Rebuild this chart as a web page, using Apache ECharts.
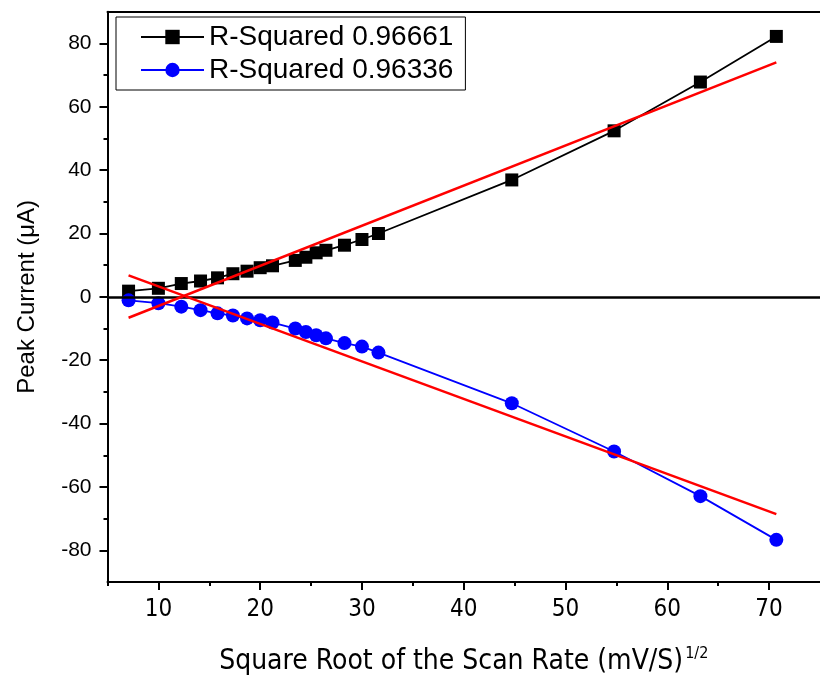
<!DOCTYPE html>
<html>
<head>
<meta charset="utf-8">
<script src="https://cdn.jsdelivr.net/npm/echarts@6/dist/echarts.min.js"></script>
<style>
  html, body { margin: 0; padding: 0; background: #fff; }
  #main { width: 820px; height: 681px; }
</style>
</head>
<body>
<div id="main"></div>
<script>
  // square root of scan rate (x) and peak currents
  const scanX = [7.07, 10, 12.25, 14.14, 15.81, 17.32, 18.71, 20, 21.21, 23.45, 24.49, 25.5, 26.46, 28.28, 30, 31.62, 44.72, 54.77, 63.25, 70.71];
  const anodic = [1.8, 2.7, 4.2, 5.0, 6.0, 7.3, 8.1, 9.2, 9.8, 11.5, 12.5, 13.9, 14.7, 16.3, 18.1, 20.0, 36.9, 52.4, 67.8, 82.2];
  const cathodic = [-1.1, -2.0, -3.1, -4.2, -5.2, -5.9, -6.8, -7.4, -8.1, -10.0, -11.1, -12.1, -13.1, -14.6, -15.7, -17.6, -33.6, -48.8, -62.9, -76.7];
  // linear fits (red)
  const fitX = [7.07, 70.71];
  const fitAnodic = [-6.6, 74.0];
  const fitCathodic = [6.8, -68.6];
  const names = ['R-Squared 0.96661', 'R-Squared 0.96336'];
  const xMajor = [10, 20, 30, 40, 50, 60, 70];
  const xMinor = [5, 15, 25, 35, 45, 55, 65];
  const yMajor = [-80, -60, -40, -20, 0, 20, 40, 60, 80];
  const yMinor = [-70, -50, -30, -10, 10, 30, 50, 70];

  const pairs = (xs, ys) => xs.map((x, i) => [x, ys[i]]);
  const arial = 'Liberation Sans, Arial, sans-serif';
  const narrow = 'Liberation Sans Narrow, Arial Narrow, DejaVu Sans Condensed, sans-serif';
  const black = '#000';

  const chart = echarts.init(document.getElementById('main'));
  chart.setOption({
    animation: false,
    backgroundColor: '#fff',
    grid: { left: 107.5, top: 11.7, right: -8, bottom: 97.7 },
    legend: {
      data: names,
      orient: 'vertical',
      left: 116,
      top: 17,
      padding: [6, 12, 6, 24],
      itemGap: 5,
      itemWidth: 63,
      itemHeight: 18,
      borderColor: black,
      borderWidth: 1,
      textStyle: { fontFamily: arial, fontSize: 28, color: black, lineHeight: 28 }
    },
    xAxis: [
      {
        type: 'value', position: 'bottom', min: 5, max: 75,
        splitLine: { show: false },
        axisLine: { onZero: false, lineStyle: { color: black, width: 2 } },
        axisTick: { show: true, customValues: xMajor, length: 8, lineStyle: { color: black, width: 2 } },
        axisLabel: { customValues: xMajor, margin: 16, fontFamily: narrow, fontSize: 24, color: black },
        name: '{a|Square Root of the Scan Rate (mV/S)}{s|1/2}',
        nameLocation: 'middle',
        nameGap: 64,
        nameTextStyle: {
          rich: {
            a: { fontFamily: narrow, fontSize: 28, color: black },
            s: { fontFamily: narrow, fontSize: 16, color: black, padding: [0, 0, 16, 2] }
          }
        }
      },
      {
        type: 'value', position: 'bottom', min: 5, max: 75,
        splitLine: { show: false },
        axisLine: { show: false, onZero: false },
        axisTick: { show: true, customValues: xMinor, length: 4, lineStyle: { color: black, width: 2 } },
        axisLabel: { show: false }
      },
      {
        type: 'value', position: 'top', min: 5, max: 75,
        splitLine: { show: false },
        axisLine: { onZero: false, lineStyle: { color: black, width: 2 } },
        axisTick: { show: false },
        axisLabel: { show: false }
      }
    ],
    yAxis: [
      {
        type: 'value', position: 'left', min: -90, max: 90,
        splitLine: { show: false },
        axisLine: { onZero: false, lineStyle: { color: black, width: 2 } },
        axisTick: { customValues: yMajor, length: 8, lineStyle: { color: black, width: 2 } },
        axisLabel: { customValues: yMajor, margin: 16, fontFamily: arial, fontSize: 21, color: black },
        name: 'Peak Current (\u03bcA)',
        nameLocation: 'middle',
        nameGap: 68,
        nameTextStyle: { fontFamily: arial, fontSize: 24, color: black }
      },
      {
        type: 'value', position: 'left', min: -90, max: 90,
        splitLine: { show: false },
        axisLine: { show: false, onZero: false },
        axisTick: { customValues: yMinor, length: 4, lineStyle: { color: black, width: 2 } },
        axisLabel: { show: false }
      }
    ],
    series: [
      {
        name: names[0],
        type: 'line',
        data: pairs(scanX, anodic),
        symbol: 'rect',
        symbolSize: 13,
        itemStyle: { color: black },
        lineStyle: { color: black, width: 1.8 },
        markLine: {
          silent: true,
          symbol: 'none',
          label: { show: false },
          lineStyle: { color: black, width: 2.5, type: 'solid' },
          data: [{ yAxis: 0 }]
        }
      },
      {
        name: names[1],
        type: 'line',
        data: pairs(scanX, cathodic),
        symbol: 'circle',
        symbolSize: 14,
        itemStyle: { color: '#0000ff' },
        lineStyle: { color: '#0000ff', width: 1.8 }
      },
      {
        name: 'fit1',
        type: 'line',
        data: pairs(fitX, fitAnodic),
        showSymbol: false,
        lineStyle: { color: '#ff0000', width: 2.5 },
        z: 5
      },
      {
        name: 'fit2',
        type: 'line',
        data: pairs(fitX, fitCathodic),
        showSymbol: false,
        lineStyle: { color: '#ff0000', width: 2.5 },
        z: 5
      }
    ]
  });
</script>
</body>
</html>
